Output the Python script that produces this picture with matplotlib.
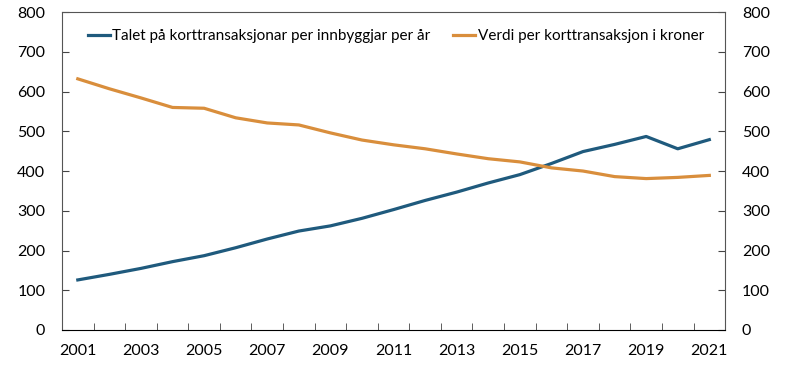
import matplotlib.pyplot as plt

years = list(range(2001, 2022))
talet = [126, 140, 155, 172, 187, 207, 229, 249, 262, 281, 303,
         326, 347, 370, 391, 419, 449, 467, 487, 456, 479]
verdi = [632, 607, 584, 560, 558, 534, 521, 516, 496, 478, 466,
         456, 443, 431, 423, 408, 400, 386, 381, 384, 389]

plt.rcParams['font.family'] = ['Lato', 'DejaVu Sans']

fig = plt.figure(figsize=(7.97, 3.65), dpi=100)
ax = fig.add_axes([0.0778, 0.0959, 0.832, 0.871])

x = list(range(len(years)))
ax.plot(x, talet, color="#1f5a7d", lw=2.3, label="Talet på korttransaksjonar per innbyggjar per år")
ax.plot(x, verdi, color="#d98e3c", lw=2.3, label="Verdi per korttransaksjon i kroner")

ax.set_xlim(-0.5, len(years) - 0.5)
ax.set_ylim(0, 800)
ax.set_yticks(range(0, 801, 100))
ax.set_xticks(x[::2])
ax.set_xticklabels([str(y) for y in years[::2]])
ax.set_xticks([i - 0.5 for i in range(len(years) + 1)], minor=True)
ax.tick_params(axis="x", which="major", length=0, labelsize=11.5, pad=10)
ax.tick_params(axis="x", which="minor", direction="in", length=5, color="#444444")
ax.tick_params(axis="y", direction="in", length=5, labelsize=11.5, left=True, right=True,
               labelleft=True, labelright=True, pad=12, color="#444444")
for s in ax.spines.values():
    s.set_color("#555555")
ax.spines["bottom"].set_color("#000000")

ax.legend(loc="upper left", ncol=2, frameon=False, fontsize=11, handlelength=1.45,
          handletextpad=0.15, columnspacing=1.5, bbox_to_anchor=(0.018, 0.99))

fig.savefig("out.png", dpi=100)
